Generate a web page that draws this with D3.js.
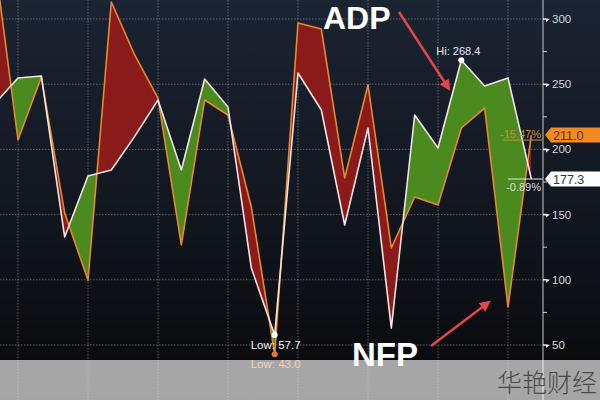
<!DOCTYPE html>
<html>
<head>
<meta charset="utf-8">
<script src="https://cdn.jsdelivr.net/npm/d3@7"></script>
<style>
  body { margin: 0; background: #000; }
  svg { display: block; }
</style>
</head>
<body>
<div id="chart"></div>
<script>
// monthly prints, oldest first (first point sits just off the left edge)
var adp = [235, 254.8, 256.3, 132.8, 179.6, 184.2, 210, 237.9, 184.2, 254.0, 232.5, 109.0,
           57.7, 258.6, 230.2, 142.0, 216.4, 63.0, 226.4, 201.1, 268.4, 248.6, 254.8, 177.3];
var nfp = [345, 207.2, 255.5, 151.2, 99.8, 313, 272.4, 239.4, 126.7, 237.9, 226.4, 155.8,
           43.0, 296.9, 292.3, 178.1, 249.4, 124.4, 163.5, 157.4, 216.4, 231.7, 79.1, 211.0];
var yTicks = [50, 100, 150, 200, 250, 300];
var yMinor = [75, 125, 175, 225, 275];
var gridIdx = [1, 4, 7, 10, 13, 16, 19, 22];

var w = 600, h = 400, axisX = 543;
var lastI = adp.length - 1;

var x = d3.scaleLinear().domain([0, lastI]).range([-5.33, 531.33]);
var y = d3.scaleLinear().domain([50, 300]).range([345, 19]);

var svg = d3.select("#chart").append("svg")
  .attr("width", w)
  .attr("height", h);

var defs = svg.append("defs");
var grad = defs.append("linearGradient")
  .attr("id", "bg").attr("x1", 0).attr("y1", 0).attr("x2", 0).attr("y2", 1);
grad.append("stop").attr("offset", "0%").attr("stop-color", "#1b2433");
grad.append("stop").attr("offset", "50%").attr("stop-color", "#121720");
grad.append("stop").attr("offset", "100%").attr("stop-color", "#08080a");

defs.append("marker")
  .attr("id", "arr")
  .attr("markerUnits", "userSpaceOnUse")
  .attr("viewBox", "0 0 10 10")
  .attr("refX", 8).attr("refY", 5)
  .attr("markerWidth", 13).attr("markerHeight", 11)
  .attr("orient", "auto")
  .append("path")
  .attr("d", "M0,0 L10,5 L0,10 Z")
  .attr("fill", "#e2474f");

svg.append("rect").attr("width", w).attr("height", h).attr("fill", "url(#bg)");

// grid
svg.selectAll(".hgrid")
  .data(yTicks)
  .enter()
  .append("line")
  .attr("x1", 0).attr("x2", axisX)
  .attr("y1", function (d) { return y(d); })
  .attr("y2", function (d) { return y(d); })
  .attr("stroke", "#a3a9b2").attr("stroke-opacity", 0.5)
  .attr("stroke-dasharray", "1.5,1.5");

svg.selectAll(".vgrid")
  .data(gridIdx)
  .enter()
  .append("line")
  .attr("x1", function (d) { return x(d); })
  .attr("x2", function (d) { return x(d); })
  .attr("y1", 0).attr("y2", h)
  .attr("stroke", "#a3a9b2").attr("stroke-opacity", 0.5)
  .attr("stroke-dasharray", "1.5,1.5");

// difference fill: red where NFP above ADP, green where ADP above NFP
var ix = function (d, i) { return x(i); };

defs.append("clipPath").attr("id", "clipAbove")
  .append("path")
  .attr("d", d3.area().x(ix).y0(0).y1(function (d) { return y(d); })(adp));
defs.append("clipPath").attr("id", "clipBelow")
  .append("path")
  .attr("d", d3.area().x(ix).y0(h).y1(function (d) { return y(d); })(adp));

var between = d3.area()
  .x(ix)
  .y0(function (d, i) { return y(adp[i]); })
  .y1(function (d, i) { return y(nfp[i]); });

svg.append("path")
  .attr("d", between(adp))
  .attr("clip-path", "url(#clipAbove)")
  .attr("fill", "#8b1b1b");
svg.append("path")
  .attr("d", between(adp))
  .attr("clip-path", "url(#clipBelow)")
  .attr("fill", "#4b8a1e");

var line = d3.line().x(ix).y(function (d) { return y(d); });

svg.append("path")
  .attr("d", line(nfp))
  .attr("fill", "none")
  .attr("stroke", "#e8892c")
  .attr("stroke-width", 1.6)
  .attr("stroke-linejoin", "round");
svg.append("path")
  .attr("d", line(adp))
  .attr("fill", "none")
  .attr("stroke", "#f4e4e2")
  .attr("stroke-width", 1.6)
  .attr("stroke-linejoin", "round");

// right axis
svg.append("line")
  .attr("x1", axisX).attr("x2", axisX)
  .attr("y1", 0).attr("y2", h)
  .attr("stroke", "#c9c9c9").attr("stroke-width", 1);

svg.selectAll(".minor")
  .data(yMinor)
  .enter()
  .append("line")
  .attr("x1", axisX).attr("x2", axisX + 4)
  .attr("y1", function (d) { return y(d); })
  .attr("y2", function (d) { return y(d); })
  .attr("stroke", "#c9c9c9");

svg.selectAll(".tickmark")
  .data(yTicks)
  .enter()
  .append("path")
  .attr("d", function (d) {
    var ty = y(d);
    return "M" + axisX + "," + (ty - 0.8) + "H" + (axisX + 3) + "L" + (axisX + 7) + "," + ty +
           "L" + (axisX + 3) + "," + (ty + 3) + "V" + (ty + 0.8) + "H" + axisX + "Z";
  })
  .attr("fill", "#e6e6e6");

svg.selectAll(".ticklabel")
  .data(yTicks)
  .enter()
  .append("text")
  .text(function (d) { return d; })
  .attr("x", 552)
  .attr("y", function (d) { return y(d) + 4; })
  .attr("font-family", "Liberation Sans, Arial, sans-serif")
  .attr("font-size", "11.5px")
  .attr("fill", "#d8d8d8");

// last value markers
var adpLast = adp[lastI], nfpLast = nfp[lastI];
var nfpChg = "-15.47%", adpChg = "-0.89%";

svg.append("line")
  .attr("x1", 503).attr("x2", axisX)
  .attr("y1", y(nfpLast) + 5).attr("y2", y(nfpLast) + 5)
  .attr("stroke", "#c98a3c").attr("stroke-width", 1);
svg.append("text")
  .text(nfpChg)
  .attr("x", 541).attr("y", y(nfpLast) + 3)
  .attr("text-anchor", "end")
  .attr("font-family", "Liberation Sans, Arial, sans-serif")
  .attr("font-size", "11px")
  .attr("fill", "#d08a3a");

svg.append("line")
  .attr("x1", 508).attr("x2", axisX)
  .attr("y1", y(adpLast)).attr("y2", y(adpLast))
  .attr("stroke", "#e8e8e8").attr("stroke-width", 1);
svg.append("text")
  .text(adpChg)
  .attr("x", 541).attr("y", y(adpLast) + 12)
  .attr("text-anchor", "end")
  .attr("font-family", "Liberation Sans, Arial, sans-serif")
  .attr("font-size", "11px")
  .attr("fill", "#dcdcdc");

var tag = function (val, fill, txtColor) {
  var ty = y(val);
  svg.append("path")
    .attr("d", "M" + (axisX + 2) + "," + ty + "L" + (axisX + 8) + "," + (ty - 7.5) +
               "H" + w + "V" + (ty + 7.5) + "H" + (axisX + 8) + "Z")
    .attr("fill", fill);
  svg.append("text")
    .text(val.toFixed(1))
    .attr("x", 553).attr("y", ty + 4.5)
    .attr("font-family", "Liberation Sans, Arial, sans-serif")
    .attr("font-size", "12.5px")
    .attr("fill", txtColor);
};
tag(nfpLast, "#f28a22", "#6a2a08");
tag(adpLast, "#ffffff", "#333333");

// high / low callouts
var hiI = adp.indexOf(d3.max(adp));
var loI = adp.indexOf(d3.min(adp));
var nloI = nfp.indexOf(d3.min(nfp));

svg.append("circle").attr("cx", x(hiI)).attr("cy", y(adp[hiI])).attr("r", 3).attr("fill", "#ffffff");
svg.append("text")
  .text("Hi: " + adp[hiI].toFixed(1))
  .attr("x", x(hiI) - 3).attr("y", y(adp[hiI]) - 5)
  .attr("text-anchor", "middle")
  .attr("font-family", "Liberation Sans, Arial, sans-serif")
  .attr("font-size", "11px")
  .attr("fill", "#e8e8e8");

svg.append("circle").attr("cx", x(loI)).attr("cy", y(adp[loI])).attr("r", 3).attr("fill", "#ffffff");
svg.append("text")
  .text("Low: " + adp[loI].toFixed(1))
  .attr("x", x(loI) + 1).attr("y", y(adp[loI]) + 14)
  .attr("text-anchor", "middle")
  .attr("font-family", "Liberation Sans, Arial, sans-serif")
  .attr("font-size", "11.5px")
  .attr("fill", "#f0f0f0");

svg.append("circle").attr("cx", x(nloI)).attr("cy", y(nfp[nloI])).attr("r", 3).attr("fill", "#e4752e");
svg.append("text")
  .text("Low: " + nfp[nloI].toFixed(1))
  .attr("x", x(nloI) + 1).attr("y", y(nfp[nloI]) + 14)
  .attr("text-anchor", "middle")
  .attr("font-family", "Liberation Sans, Arial, sans-serif")
  .attr("font-size", "11.5px")
  .attr("fill", "#e8862c");

// big labels + arrows
svg.append("text")
  .text("ADP")
  .attr("x", 323).attr("y", 29)
  .attr("font-family", "Liberation Sans, Arial, sans-serif")
  .attr("font-weight", "bold")
  .attr("font-size", "32px")
  .attr("fill", "#ffffff");
svg.append("line")
  .attr("x1", 399).attr("y1", 12).attr("x2", 449).attr("y2", 89)
  .attr("stroke", "#e2474f").attr("stroke-width", 2.5)
  .attr("marker-end", "url(#arr)");

svg.append("text")
  .text("NFP")
  .attr("x", 352).attr("y", 366)
  .attr("font-family", "Liberation Sans, Arial, sans-serif")
  .attr("font-weight", "bold")
  .attr("font-size", "33px")
  .attr("fill", "#ffffff");
svg.append("line")
  .attr("x1", 431).attr("y1", 346).attr("x2", 489).attr("y2", 302)
  .attr("stroke", "#e2474f").attr("stroke-width", 2.5)
  .attr("marker-end", "url(#arr)");

// washed-out strip at the bottom with watermark
svg.append("rect")
  .attr("x", 0).attr("y", 360).attr("width", w).attr("height", 40)
  .attr("fill", "#ffffff").attr("fill-opacity", 0.64);
svg.append("text")
  .text("华艳财经")
  .attr("x", 497).attr("y", 392)
  .attr("font-family", "Noto Sans CJK SC, sans-serif")
  .attr("font-weight", 300)
  .attr("font-size", "25px")
  .attr("fill", "#4a4a4a");
</script>
</body>
</html>
